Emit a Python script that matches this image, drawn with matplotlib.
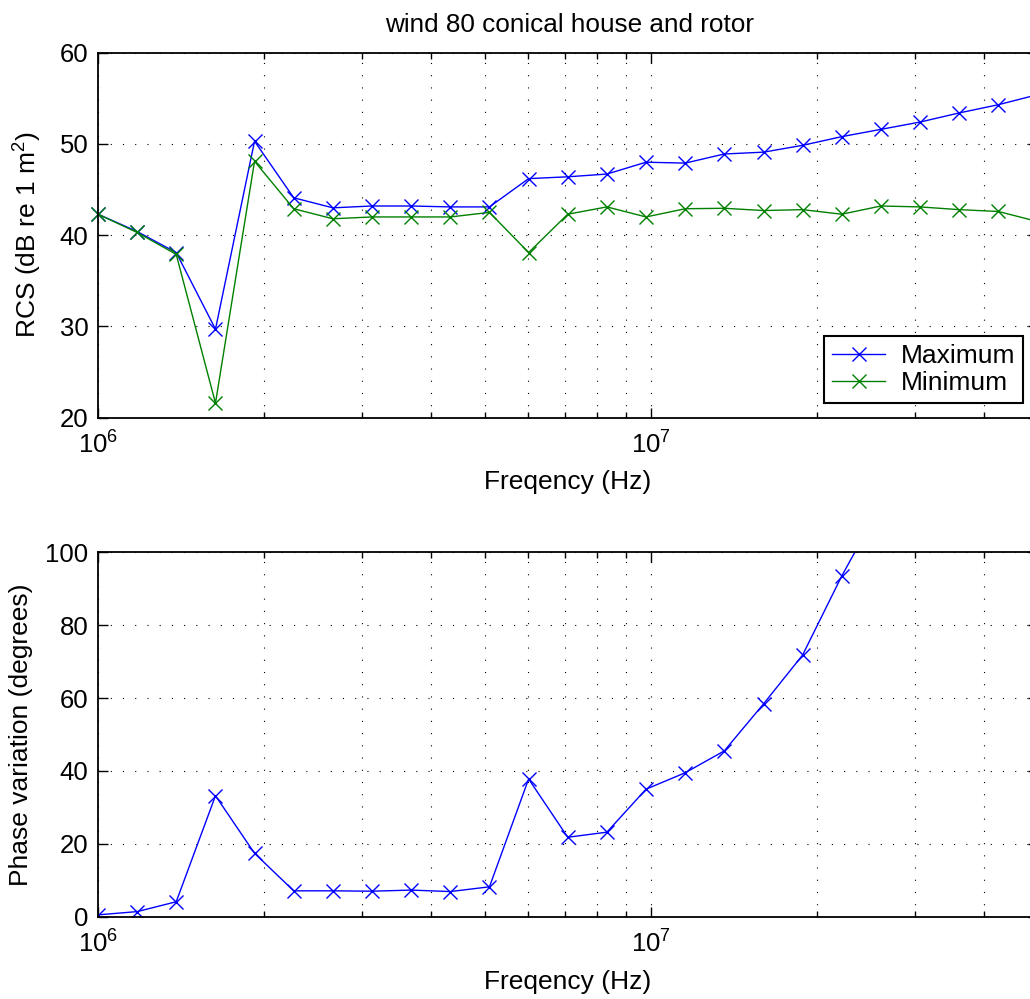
import matplotlib
matplotlib.use("Agg")
import matplotlib.pyplot as plt
from matplotlib.ticker import LogLocator, NullFormatter, MultipleLocator

# ── data ────────────────────────────────────────────────────────
freq_mhz = [1.000, 1.177, 1.385, 1.631, 1.919, 2.259, 2.659, 3.130, 3.684,
            4.336, 5.104, 6.008, 7.071, 8.323, 9.797, 11.53, 13.57, 15.98,
            18.80, 22.13, 26.05, 30.66, 36.09, 42.48, 50.00]

rcs_max = [42.3, 40.4, 38.1, 29.7, 50.3, 44.1, 43.0, 43.2, 43.2, 43.1, 43.1,
           46.2, 46.4, 46.7, 48.0, 47.9, 48.9, 49.1, 49.85, 50.8, 51.6, 52.4,
           53.4, 54.3, 55.4]
rcs_min = [42.3, 40.3, 37.9, 21.6, 48.1, 42.9, 41.8, 42.0, 42.0, 42.0, 42.5,
           38.1, 42.3, 43.1, 42.0, 42.9, 42.95, 42.7, 42.8, 42.3, 43.2, 43.1,
           42.8, 42.6, 41.5]
phase = [0.5, 1.4, 4.1, 33.2, 17.4, 7.1, 7.1, 7.0, 7.3, 6.9, 8.2, 37.8, 21.8,
         23.2, 35.0, 39.5, 45.5, 58.4, 71.8, 93.5, 113.0]

freq = [f * 1e6 for f in freq_mhz]

# ── style ───────────────────────────────────────────────────────
plt.rcParams["font.family"] = ["Liberation Sans", "DejaVu Sans"]
plt.rcParams["mathtext.fontset"] = "custom"
plt.rcParams["mathtext.rm"] = "Liberation Sans"
plt.rcParams["mathtext.it"] = "Liberation Sans:italic"

BLUE = (0, 0, 1)
GREEN = (0, 0.5, 0)
GRID_LS = (0, (1, 10))
TICK_FS = 18.5
LABEL_FS = 19


def style_ax(ax, ylim, ystep):
    ax.set_xscale("log")
    ax.set_xlim(1e6, 5e7)
    ax.set_ylim(*ylim)
    ax.yaxis.set_major_locator(MultipleLocator(ystep))
    ax.xaxis.set_major_locator(LogLocator(base=10, numticks=10))
    ax.xaxis.set_minor_locator(LogLocator(base=10, subs=range(2, 10), numticks=20))
    ax.xaxis.set_minor_formatter(NullFormatter())
    ax.tick_params(which="both", direction="in", top=True, right=True,
                   labelsize=TICK_FS, width=1.0)
    ax.tick_params(which="major", length=7)
    ax.tick_params(which="minor", length=4)
    ax.tick_params(axis="y", pad=7)
    ax.tick_params(axis="x", pad=10)
    ax.grid(True, which="both", axis="x", color="black", lw=0.8, ls=GRID_LS)
    ax.grid(True, which="major", axis="y", color="black", lw=0.8, ls=GRID_LS)
    ax.set_axisbelow(True)
    for sp in ax.spines.values():
        sp.set_linewidth(1.3)


fig = plt.figure(figsize=(10.30, 9.99), dpi=100)
W, H = 1030.0, 999.0

# ── top: RCS ────────────────────────────────────────────────────
ax1 = fig.add_axes([98 / W, 1 - 417.7 / H, 939.5 / W, 365 / H])
ax1.plot(freq, rcs_max, color=BLUE, lw=1.0, marker="x", ms=9.5, mew=1.0,
         label="Maximum", clip_on=False)
ax1.plot(freq, rcs_min, color=GREEN, lw=1.0, marker="x", ms=9.5, mew=1.0,
         label="Minimum", clip_on=False)
style_ax(ax1, (20, 60), 10)
ax1.set_xlabel("Freqency (Hz)", fontsize=LABEL_FS)
ax1.set_ylabel("RCS (dB re 1 m$^2$)", fontsize=LABEL_FS)
ax1.xaxis.set_label_coords(0.5, -0.143)
ax1.yaxis.set_label_coords(-0.058, 0.5)
leg = ax1.legend(loc="lower right", bbox_to_anchor=(0.985, 0.041),
                 borderaxespad=0, fontsize=LABEL_FS, fancybox=False,
                 framealpha=1, edgecolor="black", handlelength=2.0,
                 handletextpad=0.6, borderpad=0.3, labelspacing=0.1)
leg.get_frame().set_linewidth(1.5)

# ── bottom: phase ───────────────────────────────────────────────
ax2 = fig.add_axes([98 / W, 1 - 916.7 / H, 939.5 / W, 364.4 / H])
ax2.plot(freq[:len(phase)], phase, color=BLUE, lw=1.0, marker="x", ms=9.5,
         mew=1.0)
style_ax(ax2, (0, 100), 20)
ax2.set_xlabel("Freqency (Hz)", fontsize=LABEL_FS)
ax2.set_ylabel("Phase variation (degrees)", fontsize=LABEL_FS)
ax2.xaxis.set_label_coords(0.5, -0.147)
ax2.yaxis.set_label_coords(-0.069, 0.5)

fig.text(569.2 / W, 1 - 32.3 / H, "wind 80 conical house and rotor",
         ha="center", va="baseline", fontsize=18.8)

fig.savefig("out.png", dpi=100)
